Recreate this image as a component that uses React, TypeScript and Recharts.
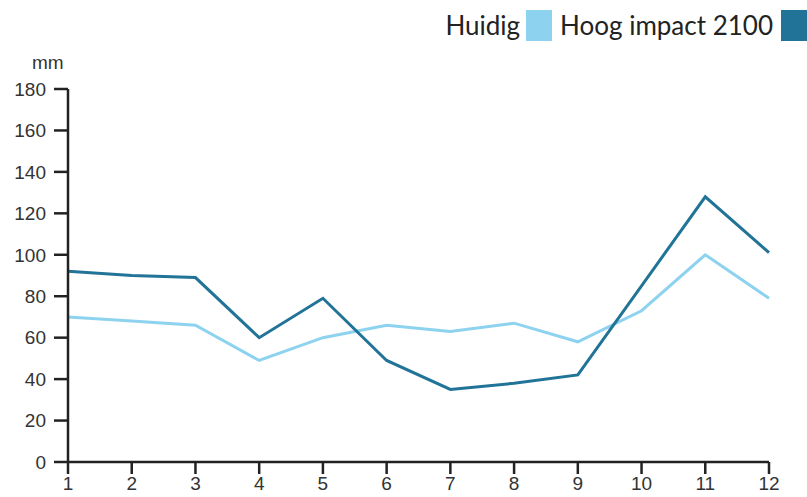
import { LineChart, Line, XAxis, YAxis } from 'recharts';

const months = [1, 2, 3, 4, 5, 6, 7, 8, 9, 10, 11, 12];
const huidig = [70, 68, 66, 49, 60, 66, 63, 67, 58, 73, 100, 79];
const hoogImpact = [92, 90, 89, 60, 79, 49, 35, 38, 42, 85, 128, 101];
const yTicks = [0, 20, 40, 60, 80, 100, 120, 140, 160, 180];

const LIGHT = '#8dd2ef';
const DARK = '#217397';
const AXIS = '#222';
const tickFont = { fontSize: 19, fontFamily: '"Liberation Sans", Arial, sans-serif', fill: '#333' };

const data = months.map((m, i) => ({ month: m, huidig: huidig[i], hoog: hoogImpact[i] }));

export default function App() {
  return (
    <div style={{ position: 'absolute', left: 0, top: 0, width: 807, height: 497, background: '#fff' }}>
      <LineChart width={807} height={497} data={data} margin={{ top: 89, right: 38, bottom: 0, left: 0 }}>
        <XAxis
          dataKey="month"
          type="number"
          domain={[1, 12]}
          ticks={months}
          interval={0}
          height={35}
          tickSize={12}
          tickMargin={3}
          stroke={AXIS}
          strokeWidth={2.5}
          tick={tickFont}
        />
        <YAxis
          type="number"
          domain={[0, 180]}
          ticks={yTicks}
          interval={0}
          width={68}
          tickSize={14}
          tickMargin={8}
          stroke={AXIS}
          strokeWidth={2.5}
          tick={tickFont}
        />
        <Line dataKey="huidig" stroke={LIGHT} strokeWidth={3} dot={false} isAnimationActive={false} />
        <Line dataKey="hoog" stroke={DARK} strokeWidth={3} dot={false} isAnimationActive={false} />
      </LineChart>
      <div
        style={{
          position: 'absolute',
          left: 32,
          top: 52,
          fontSize: 19,
          fontFamily: '"Liberation Sans", Arial, sans-serif',
          color: '#333',
        }}
      >
        mm
      </div>
      <div
        style={{
          position: 'absolute',
          right: 0,
          top: 9,
          display: 'flex',
          alignItems: 'center',
          fontFamily: 'Lato, "Open Sans", sans-serif',
          fontSize: 26,
          color: '#222',
          whiteSpace: 'nowrap',
        }}
      >
        <span>Huidig</span>
        <span style={{ display: 'inline-block', width: 26, height: 31, background: LIGHT, marginLeft: 6, marginRight: 8 }} />
        <span>Hoog impact 2100</span>
        <span style={{ display: 'inline-block', width: 26, height: 31, background: DARK, marginLeft: 8 }} />
      </div>
    </div>
  );
}
